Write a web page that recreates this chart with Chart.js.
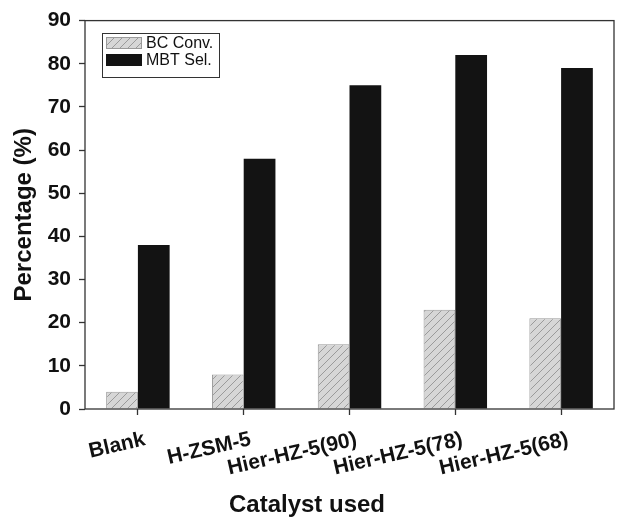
<!DOCTYPE html>
<html lang="en">
<head>
<meta charset="UTF-8">
<title>Catalyst used</title>
<script src="https://cdn.jsdelivr.net/npm/chart.js"></script>
<style>
    html, body { margin: 0; padding: 0; background: #fff; }
</style>
</head>
<body>
<canvas id="grafik" width="621" height="519"></canvas>
<script>
const catalysts = ['Blank', 'H-ZSM-5', 'Hier-HZ-5(90)', 'Hier-HZ-5(78)', 'Hier-HZ-5(68)'];
const bcConv = [4, 8, 15, 23, 21];
const mbtSel = [38, 58, 75, 82, 79];
const yMin = 0, yMax = 90, yMajor = 10, yMinor = 5;

const FONT = 'Arial, "Liberation Sans", sans-serif';

// hatch pattern for BC Conv.
function makeHatch() {
    const c = document.createElement('canvas');
    c.width = 8; c.height = 8;
    const g = c.getContext('2d');
    g.fillStyle = '#d6d6d6';
    g.fillRect(0, 0, 8, 8);
    g.strokeStyle = '#9a9a9a';
    g.lineWidth = 1;
    g.beginPath();
    g.moveTo(0, 8); g.lineTo(8, 0);
    g.moveTo(-4, 4); g.lineTo(4, -4);
    g.moveTo(4, 12); g.lineTo(12, 4);
    g.stroke();
    return g.createPattern(c, 'repeat');
}
const ctx = document.getElementById('grafik').getContext('2d');
const hatch = makeHatch();

const framePlugin = {
    id: 'frame',
    afterDraw(chart) {
        const c = chart.ctx, a = chart.chartArea, y = chart.scales.y;
        c.save();
        c.strokeStyle = '#333';
        c.lineWidth = 1.3;
        c.strokeRect(a.left, a.top, a.right - a.left, a.bottom - a.top);
        // minor ticks
        c.lineWidth = 1;
        y.ticks.forEach(t => {
            if (t.value % yMajor !== 0) {
                const py = Math.round(y.getPixelForValue(t.value)) + 0.5;
                c.beginPath();
                c.moveTo(a.left - 3, py);
                c.lineTo(a.left, py);
                c.stroke();
            }
        });
        // legend box
        const lx = 102, ly = 33, lw = 117, lh = 44;
        c.fillStyle = '#fff';
        c.fillRect(lx, ly, lw, lh);
        c.strokeStyle = '#333';
        c.lineWidth = 1;
        c.strokeRect(lx + 0.5, ly + 0.5, lw, lh);
        c.font = '16px ' + FONT;
        c.textBaseline = 'middle';
        chart.data.datasets.forEach((ds, i) => {
            const sy = ly + 4 + i * 17;
            c.fillStyle = ds.backgroundColor;
            c.fillRect(lx + 4, sy, 36, 12);
            c.strokeStyle = ds.borderColor;
            c.strokeRect(lx + 4.5, sy + 0.5, 35, 11);
            c.fillStyle = '#111';
            c.fillText(ds.label, lx + 44, sy + 6.5);
        });
        c.restore();
    }
};

new Chart(ctx, {
    type: 'bar',
    data: {
        labels: catalysts,
        datasets: [
            {
                label: 'BC Conv.',
                data: bcConv,
                backgroundColor: hatch,
                borderColor: '#999',
                borderWidth: 1
            },
            {
                label: 'MBT Sel.',
                data: mbtSel,
                backgroundColor: '#131313',
                borderColor: '#131313',
                borderWidth: 0
            }
        ]
    },
    options: {
        responsive: false,
        animation: false,
        layout: { padding: { top: 20, right: 7, left: 0, bottom: 0 } },
        datasets: { bar: { categoryPercentage: 0.6, barPercentage: 1 } },
        plugins: {
            legend: { display: false },
            tooltip: { enabled: false },
            title: {
                display: true,
                position: 'bottom',
                text: 'Catalyst used',
                color: '#111',
                font: { family: FONT, size: 24, weight: 'bold', lineHeight: 1 },
                padding: { top: 0, bottom: 2 }
            }
        },
        scales: {
            x: {
                grid: { offset: false, drawOnChartArea: false, tickLength: 6, tickColor: '#333', tickWidth: 1.3 },
                border: { display: false },
                ticks: {
                    color: '#111',
                    font: { family: FONT, size: 21, weight: 'bold' },
                    autoSkip: false,
                    minRotation: 13,
                    maxRotation: 13,
                    padding: 12,
                    labelOffset: 7
                },
                afterFit(scale) { scale.height = 84; }
            },
            y: {
                min: yMin,
                max: yMax,
                grid: {
                    drawOnChartArea: false,
                    tickLength: 6,
                    tickWidth: 1.3,
                    tickColor: c => (c.tick && c.tick.value % yMajor === 0) ? '#333' : 'rgba(0,0,0,0)'
                },
                border: { display: false },
                ticks: {
                    stepSize: yMinor,
                    color: '#111',
                    padding: 8,
                    font: { family: FONT, size: 21, weight: 'bold' },
                    callback: v => (v % yMajor === 0) ? v : ''
                },
                title: {
                    display: true,
                    text: 'Percentage (%)',
                    color: '#111',
                    font: { family: FONT, size: 24, weight: 'bold' },
                    padding: { top: 10, bottom: 0 }
                },
                afterFit(scale) { scale.width = 85; }
            }
        }
    },
    plugins: [framePlugin]
});
</script>
</body>
</html>
